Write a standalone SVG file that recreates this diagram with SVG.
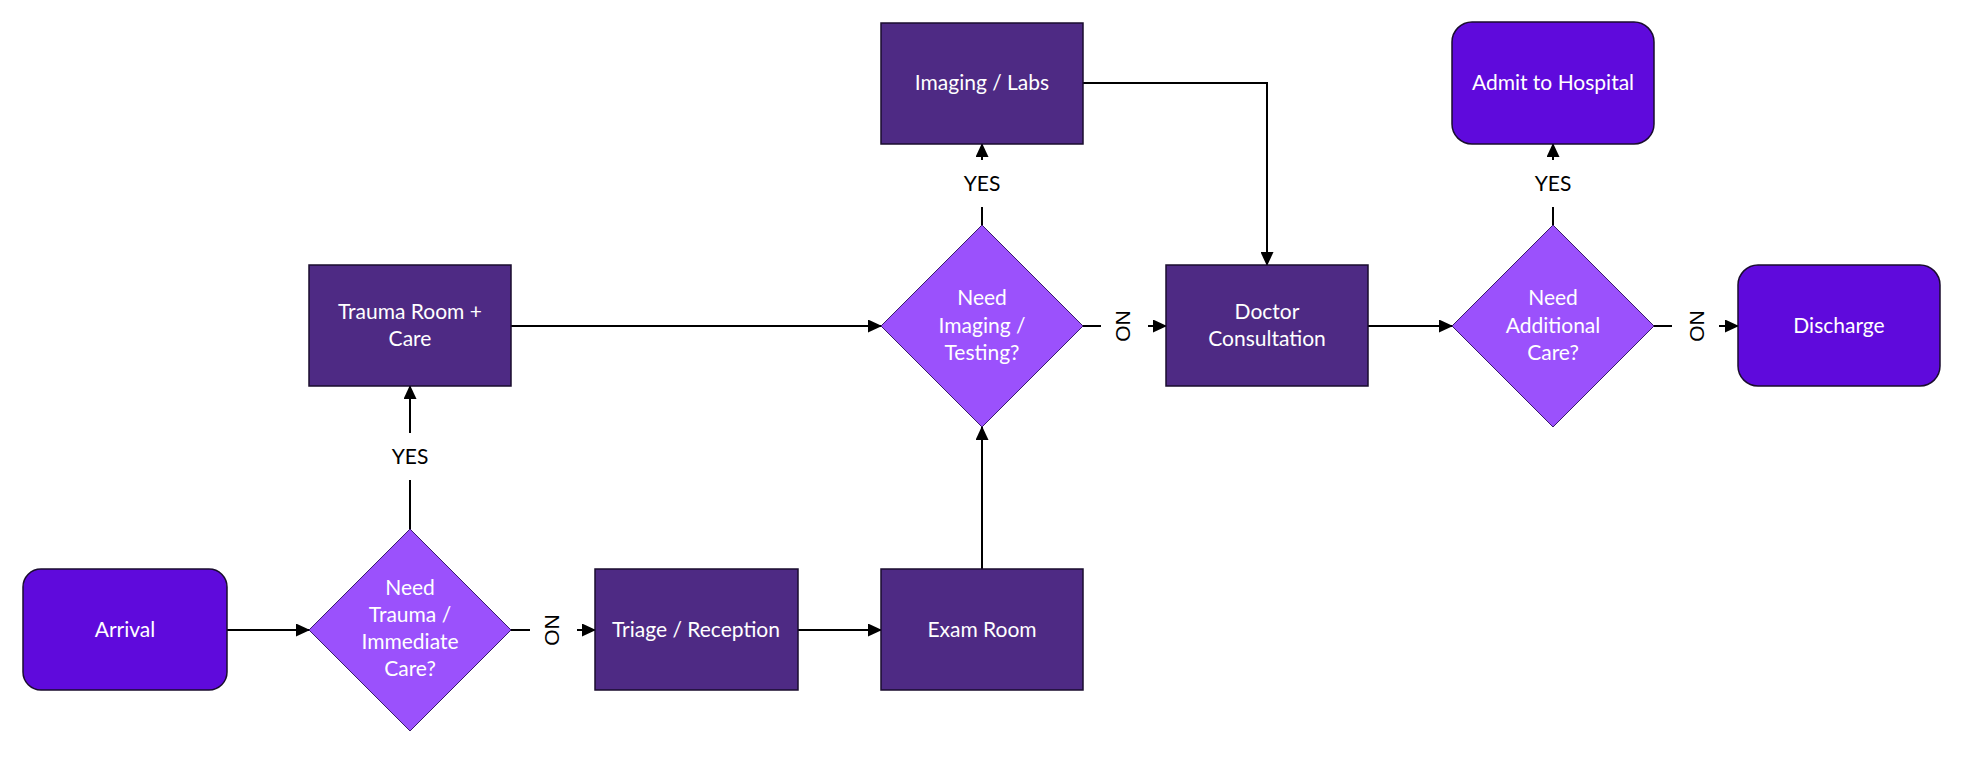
<svg xmlns="http://www.w3.org/2000/svg" width="1972" height="760" viewBox="0 0 1972 760">
<style>
.bg{fill:#ffffff}
.proc{fill:#4E2A84;stroke:#1a0d2e;stroke-width:1.5}
.term{fill:#5F0ADC;stroke:#1a0d2e;stroke-width:1.5}
.dec{fill:#9B51FC;stroke:#3a1a6e;stroke-width:1}
.t{font-family:"Lato","Liberation Sans",sans-serif;font-size:21px;fill:#ffffff;text-anchor:middle}
.lbl{font-family:"Lato","Liberation Sans",sans-serif;font-size:21px;fill:#000000;text-anchor:middle}
.no{font-family:"Liberation Sans",Arial,sans-serif;font-size:21px;fill:#000000;text-anchor:middle;dominant-baseline:central}
.c{fill:none;stroke:#000000;stroke-width:2}
</style>
<defs>
<marker id="ah" markerUnits="userSpaceOnUse" markerWidth="14" markerHeight="13" refX="13" refY="6.5" orient="auto">
<path d="M0,0 L14,6.5 L0,13 z" fill="#000000"/>
</marker>
</defs>
<rect class="bg" x="0" y="0" width="1972" height="760"/>
<g id="connectors">
<path class="c" d="M227,630 H309" marker-end="url(#ah)"/>
<path class="c" d="M410,529 V480"/>
<path class="c" d="M410,433 V386" marker-end="url(#ah)"/>
<path class="c" d="M511,630 H530"/>
<path class="c" d="M577,630 H595" marker-end="url(#ah)"/>
<path class="c" d="M798,630 H881" marker-end="url(#ah)"/>
<path class="c" d="M982,569 V427" marker-end="url(#ah)"/>
<path class="c" d="M511,326 H881" marker-end="url(#ah)"/>
<path class="c" d="M982,225 V207"/>
<path class="c" d="M982,160 V144" marker-end="url(#ah)"/>
<path class="c" d="M1083,83 H1267 V265" marker-end="url(#ah)"/>
<path class="c" d="M1083,326 H1101"/>
<path class="c" d="M1148,326 H1166" marker-end="url(#ah)"/>
<path class="c" d="M1368,326 H1452" marker-end="url(#ah)"/>
<path class="c" d="M1553,225 V207"/>
<path class="c" d="M1553,160 V144" marker-end="url(#ah)"/>
<path class="c" d="M1654,326 H1672"/>
<path class="c" d="M1719,326 H1738" marker-end="url(#ah)"/>
<text class="lbl" x="410" y="464">YES</text>
<text class="lbl" x="982" y="191">YES</text>
<text class="lbl" x="1553" y="191">YES</text>
<text class="no" x="552" y="630" transform="rotate(90 552 630)">NO</text>
<text class="no" x="1123" y="326" transform="rotate(90 1123 326)">NO</text>
<text class="no" x="1697" y="326" transform="rotate(90 1697 326)">NO</text>
</g>
<g id="arrival">
<rect class="term" x="23" y="569" width="204" height="121" rx="18"/>
<text class="t" x="125" y="637">Arrival</text>
</g>
<g id="decision-trauma">
<polygon class="dec" points="410,529 511,630 410,731 309,630"/>
<text class="t" x="410" y="595">Need</text>
<text class="t" x="410" y="622">Trauma /</text>
<text class="t" x="410" y="649">Immediate</text>
<text class="t" x="410" y="676">Care?</text>
</g>
<g id="trauma-room">
<rect class="proc" x="309" y="265" width="202" height="121"/>
<text class="t" x="410" y="319">Trauma Room +</text>
<text class="t" x="410" y="346">Care</text>
</g>
<g id="triage">
<rect class="proc" x="595" y="569" width="203" height="121"/>
<text class="t" x="696" y="637">Triage / Reception</text>
</g>
<g id="exam-room">
<rect class="proc" x="881" y="569" width="202" height="121"/>
<text class="t" x="982" y="637">Exam Room</text>
</g>
<g id="decision-imaging">
<polygon class="dec" points="982,225 1083,326 982,427 881,326"/>
<text class="t" x="982" y="305">Need</text>
<text class="t" x="982" y="333">Imaging /</text>
<text class="t" x="982" y="360">Testing?</text>
</g>
<g id="imaging-labs">
<rect class="proc" x="881" y="23" width="202" height="121"/>
<text class="t" x="982" y="90">Imaging / Labs</text>
</g>
<g id="doctor">
<rect class="proc" x="1166" y="265" width="202" height="121"/>
<text class="t" x="1267" y="319">Doctor</text>
<text class="t" x="1267" y="346">Consultation</text>
</g>
<g id="decision-care">
<polygon class="dec" points="1553,225 1654,326 1553,427 1452,326"/>
<text class="t" x="1553" y="305">Need</text>
<text class="t" x="1553" y="333">Additional</text>
<text class="t" x="1553" y="360">Care?</text>
</g>
<g id="admit">
<rect class="term" x="1452" y="22" width="202" height="122" rx="20"/>
<text class="t" x="1553" y="90">Admit to Hospital</text>
</g>
<g id="discharge">
<rect class="term" x="1738" y="265" width="202" height="121" rx="20"/>
<text class="t" x="1839" y="333">Discharge</text>
</g>
</svg>
